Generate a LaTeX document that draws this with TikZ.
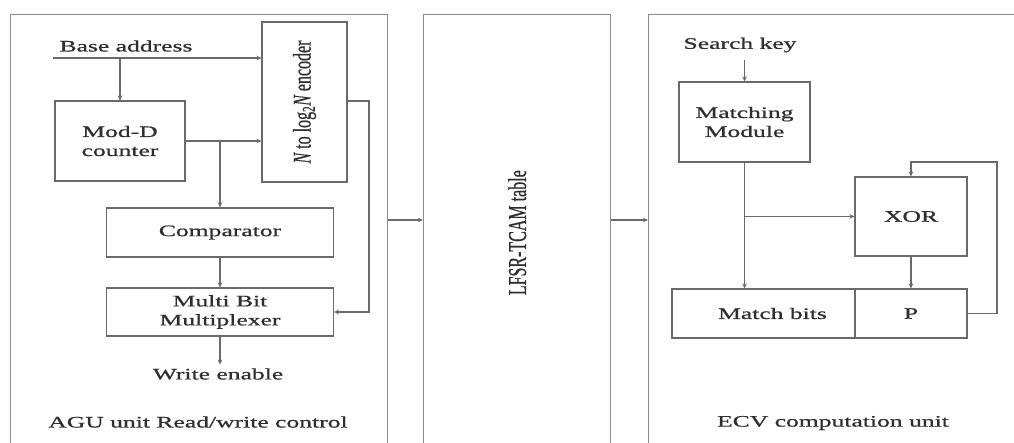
\documentclass[tikz,border=0pt]{standalone}
\usepackage{fontspec}
\setmainfont{Liberation Serif}[FakeStretch=1.6,FakeBold=0.8]
\newfontfamily\plainfont{Liberation Serif}[FakeBold=0.8]
\usetikzlibrary{arrows.meta}
\definecolor{ln}{HTML}{6A6A6A}
\definecolor{pn}{HTML}{8C8C8C}
\definecolor{tx}{HTML}{2E2E2E}
\tikzset{
  panel/.style={draw=pn, line width=1.4pt, anchor=north west, inner sep=0pt},
  blk/.style={draw=ln, line width=1.1pt, inner sep=0pt, text=tx, align=center, font=\fontsize{16}{19}\selectfont},
  lbl/.style={text=tx, inner sep=0pt, font=\fontsize{16}{19}\selectfont},
  wire/.style={draw=ln, line width=1.1pt},
  arr/.style={wire, -{Stealth[length=5pt,width=4.5pt]}},
  oarr/.style={wire, -{Stealth[length=5pt,width=5pt,open]}}
}
\begin{document}
\begin{tikzpicture}[x=1pt,y=-1pt]
\useasboundingbox (0,0) rectangle (1014,443);
\fill[white] (0,0) rectangle (1014,443);
% panels
\node[panel, minimum width=377, minimum height=436] (agu) at (10,14) {};
\node[panel, minimum width=187, minimum height=436] (lfsr) at (423,14) {};
\node[panel, minimum width=400, minimum height=436] (ecv) at (648,14) {};
\node[lbl] at (lfsr.center) {\rotatebox{90}{\scalebox{1}[1.6]{\plainfont\fontsize{16}{19}\selectfont LFSR-TCAM table}}};
% left panel
\node[lbl] (batxt) at (126,46) {Base address};
\coordinate (ba) at (53,58);
\node[blk, minimum width=85, minimum height=160] (enc) at (304.5,102) {\rotatebox{90}{\scalebox{1}[1.6]{\plainfont\fontsize{16}{19}\selectfont\itshape N\upshape\ to log\textsubscript{2}\itshape N\upshape\ encoder}}};
\node[blk, minimum width=130, minimum height=80] (modd) at (120,141) {Mod-D\\counter};
\node[blk, minimum width=227, minimum height=49] (comp) at (220,232.5) {Comparator};
\node[blk, minimum width=227, minimum height=48] (mux) at (220,312) {Multi Bit\\Multiplexer};
\node[lbl] (we) at (218,374) {Write enable};
\node[lbl] at (198,422) {AGU unit Read/write control};
\coordinate (encout) at (369,101);
\draw[arr] (ba) -- (enc.west |- ba);
\draw[arr] (modd.north |- ba) -- (modd.north);
\draw[arr] (modd.east) -- (enc.west |- modd.east);
\draw[arr] (comp.north |- modd.east) -- (comp.north);
\draw[arr] (comp.south) -- (mux.north);
\draw[oarr] (enc.east |- encout) -- (encout) |- (mux.east);
\draw[arr] (mux.south) -- ++(0,28);
% panel links
\coordinate (lvl) at (0,220);
\draw[arr] (agu.east |- lvl) -- (lfsr.west |- lvl);
\draw[arr] (lfsr.east |- lvl) -- (ecv.west |- lvl);
% right panel
\node[lbl] (sk) at (740,45) {Search key};
\node[blk, minimum width=131, minimum height=80] (match) at (744.5,122) {Matching\\Module};
\node[blk, minimum width=112, minimum height=79] (xor) at (911,216.5) {XOR};
\node[blk, minimum width=183, minimum height=49] (mb) at (763.5,313.5) {\hspace*{18pt}Match bits};
\node[blk, minimum width=112, minimum height=49] (p) at (911,313.5) {P};
\node[lbl] at (833,423) {ECV computation unit};
\coordinate (fb) at (997,162);
\draw[arr] (match.north |- 0,60) -- (match.north);
\draw[arr] (match.south) -- (match.south |- mb.north);
\draw[arr] (match.south |- xor.west) -- (xor.west);
\draw[arr] (xor.south) -- (p.north);
\draw[arr] (p.east) -| (fb) -| (xor.north);
\end{tikzpicture}
\end{document}
